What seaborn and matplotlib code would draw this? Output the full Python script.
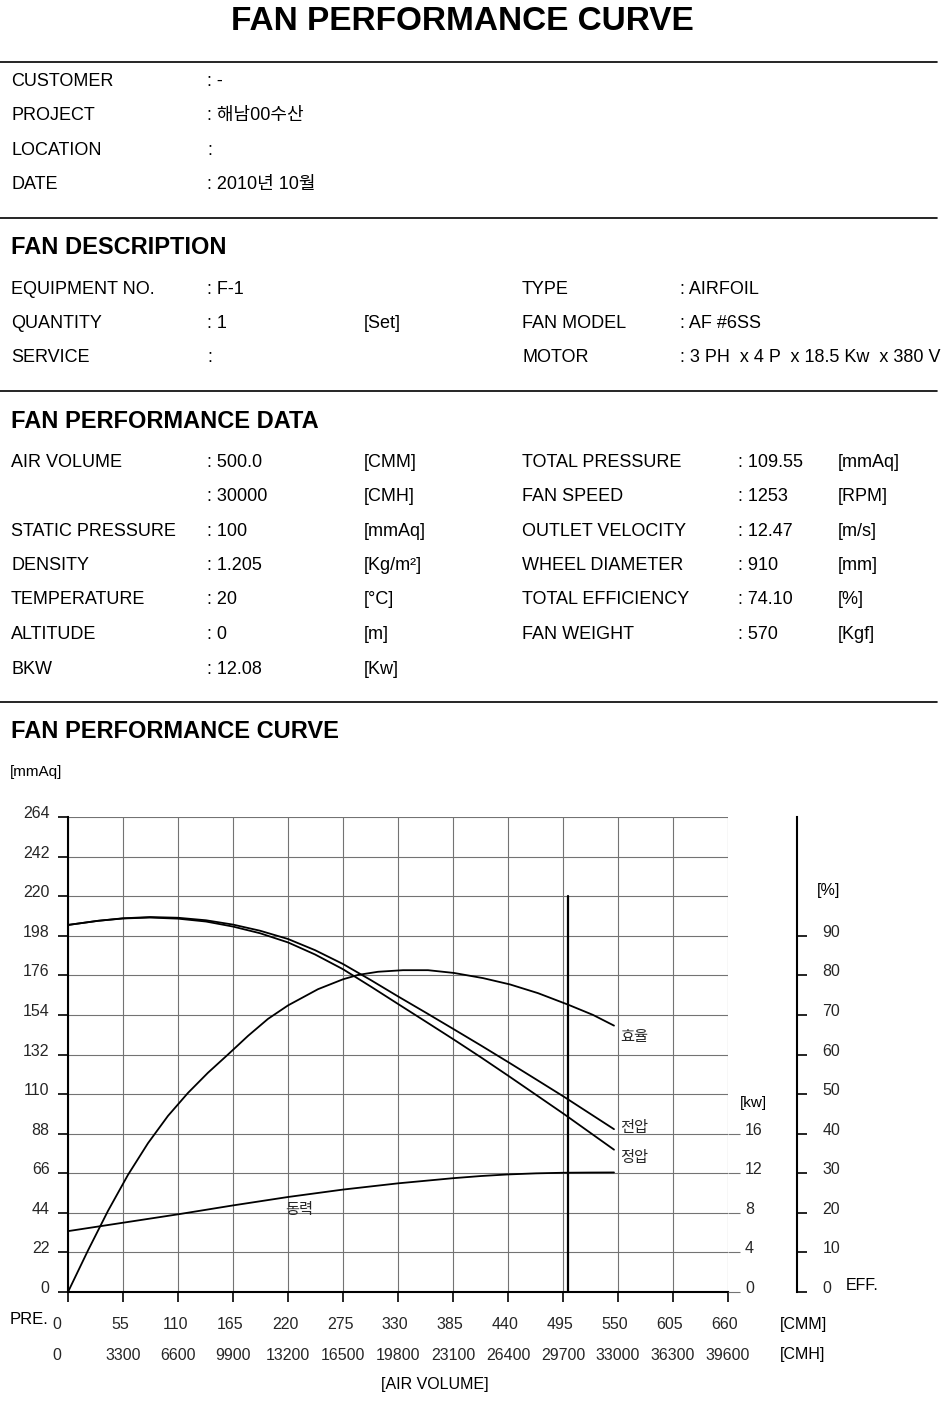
import numpy as np
import pandas as pd
import matplotlib
matplotlib.use("Agg")
import matplotlib.pyplot as plt
import matplotlib.transforms as mtransforms
from matplotlib.lines import Line2D
import seaborn as sns

# ---------------- data ----------------
title = "FAN PERFORMANCE CURVE"

info_labels = ["CUSTOMER", "PROJECT", "LOCATION", "DATE"]
info_values = [": -", ": 해남00수산", ":", ": 2010년 10월"]

desc_left_labels = ["EQUIPMENT NO.", "QUANTITY", "SERVICE"]
desc_left_values = [": F-1", ": 1", ":"]
desc_left_units = ["", "[Set]", ""]
desc_right_labels = ["TYPE", "FAN MODEL", "MOTOR"]
desc_right_values = [": AIRFOIL", ": AF #6SS", ": 3 PH  x 4 P  x 18.5 Kw  x 380 V"]

perf_left_labels = ["AIR VOLUME", "", "STATIC PRESSURE", "DENSITY", "TEMPERATURE", "ALTITUDE", "BKW"]
perf_left_values = [": 500.0", ": 30000", ": 100", ": 1.205", ": 20", ": 0", ": 12.08"]
perf_left_units = ["[CMM]", "[CMH]", "[mmAq]", "[Kg/m²]", "[°C]", "[m]", "[Kw]"]
perf_right_labels = ["TOTAL PRESSURE", "FAN SPEED", "OUTLET VELOCITY", "WHEEL DIAMETER",
                     "TOTAL EFFICIENCY", "FAN WEIGHT"]
perf_right_values = [": 109.55", ": 1253", ": 12.47", ": 910", ": 74.10", ": 570"]
perf_right_units = ["[mmAq]", "[RPM]", "[m/s]", "[mm]", "[%]", "[Kgf]"]

# curves (air volume in CMM)
cmm_p = [0, 30, 55, 82, 110, 138, 165, 192, 220, 247, 275, 303, 330, 358, 385, 413, 441, 468,
         496, 521, 546]
total_p = [204, 206.3, 207.7, 208.4, 208, 206.6, 204.2, 200.8, 196.2, 190, 182.3, 173.3, 164.3,
           155.2, 146.3, 137, 127.5, 118.2, 108.5, 99.5, 90.5]
static_p = [204, 206.3, 207.6, 208.1, 207.5, 205.9, 203.1, 199.4, 194.3, 187.6, 179.4, 169.7,
            160.1, 150.2, 140.6, 130.4, 119.9, 109.6, 98.9, 89, 79.1]

cmm_eff = [0, 20, 40, 60, 80, 100, 120, 140, 160, 180, 200, 220, 250, 275, 290, 310, 335, 360,
           386, 415, 442, 470, 500, 525, 546]
eff_pct = [0, 10.5, 20.5, 29.6, 37.6, 44.5, 50.3, 55.4, 60.0, 64.7, 69.0, 72.4, 76.5, 79.0,
           80.1, 80.9, 81.3, 81.3, 80.6, 79.3, 77.7, 75.5, 72.6, 70.0, 67.3]

cmm_pw = [0, 55, 110, 165, 220, 275, 330, 385, 413, 440, 468, 495, 521, 546]
power_kw = [6.15, 7.0, 7.85, 8.75, 9.6, 10.35, 10.98, 11.5, 11.72, 11.88, 11.99, 12.05, 12.07, 12.08]

op_cmm = 500.0
op_line_top = 220

cmm_ticks = list(range(0, 661, 55))
cmh_ticks = [c * 60 for c in cmm_ticks]
pre_ticks = list(range(0, 265, 22))
kw_ticks = [0, 4, 8, 12, 16]
eff_ticks = list(range(0, 91, 10))

# ---------------- style ----------------
sns.set_theme(style="white")
plt.rcParams["font.family"] = ["Liberation Sans", "Noto Sans CJK KR", "DejaVu Sans"]
plt.rcParams["axes.unicode_minus"] = False

W, H = 947, 1401
fig = plt.figure(figsize=(W / 100, H / 100), dpi=100)
fig.patch.set_facecolor("white")


def fx(px):
    return px / W


def fy(py):
    return 1 - py / H


def txt(x, y, s, size=13, weight="normal", ha="left", va="center"):
    fig.text(fx(x), fy(y), s, fontsize=size, fontweight=weight, ha=ha, va=va, color="black")


def hline(y):
    fig.add_artist(Line2D([0, fx(937)], [fy(y), fy(y)], color="black", lw=1.2,
                          transform=fig.transFigure))


# ---------------- header ----------------
txt(462, 22, title, size=24, weight="bold", ha="center")
hline(62)
for i, (lab, val) in enumerate(zip(info_labels, info_values)):
    y = 81 + i * 34.6
    txt(11, y, lab)
    txt(207, y, val)
hline(218)

txt(11, 248, "FAN DESCRIPTION", size=17, weight="bold")
for i in range(3):
    y = 289 + i * 34.5
    txt(11, y, desc_left_labels[i])
    txt(207, y, desc_left_values[i])
    txt(364, y, desc_left_units[i])
    txt(522, y, desc_right_labels[i])
    txt(680, y, desc_right_values[i])
hline(391)

txt(11, 421, "FAN PERFORMANCE DATA", size=17, weight="bold")
for i in range(len(perf_left_labels)):
    y = 462 + i * 34.5
    txt(11, y, perf_left_labels[i])
    txt(207, y, perf_left_values[i])
    txt(364, y, perf_left_units[i])
for i in range(len(perf_right_labels)):
    y = 462 + i * 34.5
    txt(522, y, perf_right_labels[i])
    txt(738, y, perf_right_values[i])
    txt(838, y, perf_right_units[i])
hline(702)

txt(11, 732, "FAN PERFORMANCE CURVE", size=17, weight="bold")

# ---------------- chart ----------------
ax = fig.add_axes([fx(68), fy(1292), 660 / W, 475 / H])
ax.set_facecolor("none")
ax.set_xlim(0, 660)
ax.set_ylim(0, 264)
ax.set_xticks(cmm_ticks)
ax.set_yticks(pre_ticks)
ax.set_xticklabels([str(v) for v in cmm_ticks])
ax.set_yticklabels([str(v) for v in pre_ticks])
ax.grid(True, color="#737373", lw=0.8)
for s in ["top", "right"]:
    ax.spines[s].set_visible(False)
for s in ["left", "bottom"]:
    ax.spines[s].set_color("black")
    ax.spines[s].set_linewidth(1.5)
ax.tick_params(axis="both", direction="out", length=7.2, width=1.2, color="black",
               labelsize=11.5, bottom=True, left=True)
ax.tick_params(axis="x", pad=11)
ax.tick_params(axis="y", pad=6)

up = mtransforms.ScaledTranslation(0, 5 / 100, fig.dpi_scale_trans)
for lbl in ax.get_yticklabels():
    lbl.set_transform(lbl.get_transform() + up)
xl = ax.get_xticklabels()
xl[0].set_transform(xl[0].get_transform() + mtransforms.ScaledTranslation(-11 / 100, 0, fig.dpi_scale_trans))
for lbl in xl[1:]:
    lbl.set_transform(lbl.get_transform() + mtransforms.ScaledTranslation(-3 / 100, 0, fig.dpi_scale_trans))

sec = ax.secondary_xaxis("bottom", functions=(lambda x: x * 60, lambda x: x / 60))
sec.set_xticks(cmh_ticks)
sec.set_xticklabels([str(v) for v in cmh_ticks])
sec.tick_params(length=0, pad=40, labelsize=11.5)
sec.spines["bottom"].set_visible(False)
sl = sec.get_xticklabels()
sl[0].set_transform(sl[0].get_transform() + mtransforms.ScaledTranslation(-11 / 100, 0, fig.dpi_scale_trans))

# pressure curves
sns.lineplot(x=cmm_p, y=total_p, ax=ax, color="black", lw=1.3, sort=False, estimator=None)
sns.lineplot(x=cmm_p, y=static_p, ax=ax, color="black", lw=1.3, sort=False, estimator=None)
ax.plot([op_cmm, op_cmm], [0, op_line_top], color="black", lw=1.6)
ax.set_xlabel("")
ax.set_ylabel("")

# efficiency axis
ax_eff = ax.twinx()
ax_eff.set_ylim(0, 120)
ax_eff.set_facecolor("none")
ax_eff.grid(False)
for s in ["top", "left", "bottom"]:
    ax_eff.spines[s].set_visible(False)
ax_eff.spines["right"].set_position(("axes", (797 - 68) / 660))
ax_eff.spines["right"].set_color("black")
ax_eff.spines["right"].set_linewidth(1.5)
ax_eff.set_yticks(eff_ticks)
ax_eff.set_yticklabels([str(v) for v in eff_ticks])
ax_eff.tick_params(axis="y", direction="out", length=7.2, width=1.2, color="black",
                   labelsize=11.5, pad=11, right=True, left=False)
for lbl in ax_eff.get_yticklabels():
    lbl.set_transform(lbl.get_transform() + up)
sns.lineplot(x=cmm_eff, y=eff_pct, ax=ax_eff, color="black", lw=1.3, sort=False, estimator=None)
ax_eff.set_ylabel("")
ax_eff.set_xlabel("")

# power axis
ax_kw = ax.twinx()
ax_kw.set_ylim(0, 48)
ax_kw.set_facecolor("none")
ax_kw.grid(False)
for s in ["top", "left", "bottom", "right"]:
    ax_kw.spines[s].set_visible(False)
ax_kw.set_yticks(kw_ticks)
ax_kw.set_yticklabels([str(v) for v in kw_ticks])
ax_kw.tick_params(axis="y", direction="out", length=8.6, width=0.8, color="#737373",
                  labelsize=11.5, pad=3.6, right=True, left=False)
for lbl in ax_kw.get_yticklabels():
    lbl.set_transform(lbl.get_transform() + up)
sns.lineplot(x=cmm_pw, y=power_kw, ax=ax_kw, color="black", lw=1.3, sort=False, estimator=None)
ax_kw.set_ylabel("")
ax_kw.set_xlabel("")
ax_kw.set_xlim(0, 660)

# curve labels
ax.text(552, 142, "효율", fontsize=11, va="center", ha="left")
ax.text(552, 91, "전압", fontsize=11, va="center", ha="left")
ax.text(552, 74.4, "정압", fontsize=11, va="center", ha="left")
ax.text(217, 45.5, "동력", fontsize=11, va="center", ha="left")

# axis captions
txt(10, 772, "[mmAq]", size=11)
txt(10, 1320, "PRE.", size=12)
txt(780, 1325, "[CMM]", size=11.5)
txt(780, 1355, "[CMH]", size=11.5)
txt(435, 1385, "[AIR VOLUME]", size=11.5, ha="center")
txt(740, 1103, "[kw]", size=11)
txt(817, 890, "[%]", size=11.5)
txt(846, 1286, "EFF.", size=11.5)

fig.savefig("out.png", dpi=100, facecolor="white")
